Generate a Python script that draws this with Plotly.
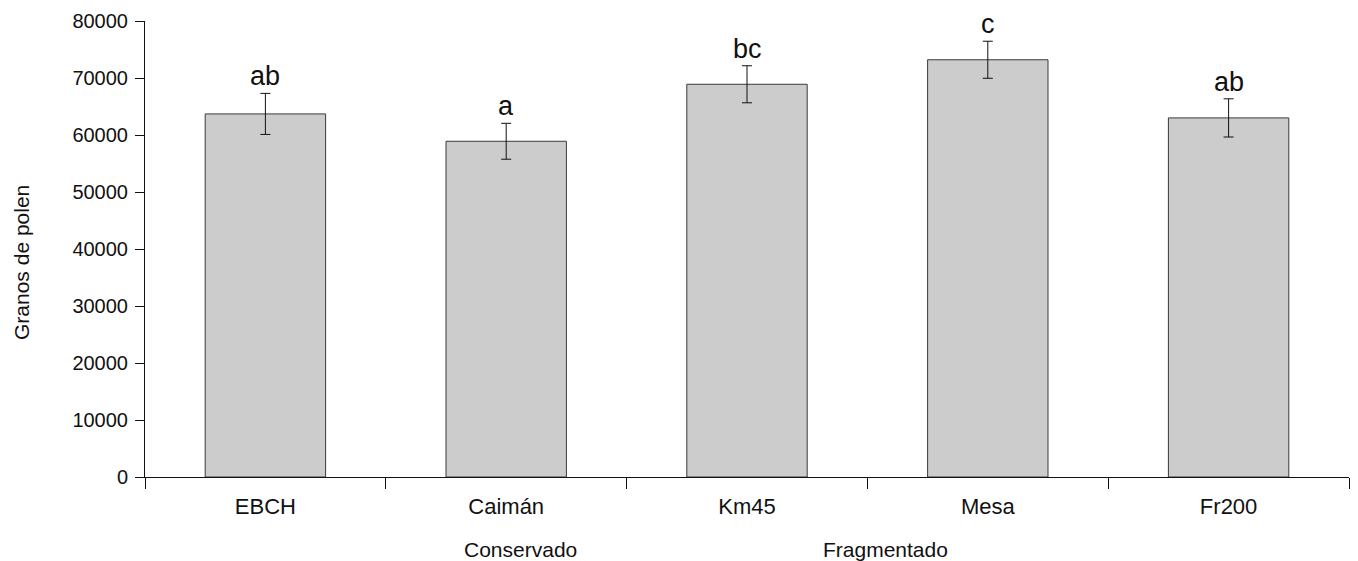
import plotly.graph_objects as go

categories = ["EBCH", "Caimán", "Km45", "Mesa", "Fr200"]
means = [63700, 58900, 68900, 73200, 63000]
errors = [3600, 3150, 3250, 3250, 3350]
letters = ["ab", "a", "bc", "c", "ab"]
groups = ["Conservado", "Fragmentado"]
group_x = [520, 885]  # pixel centres of group labels

FONT = "Liberation Sans, Arial, sans-serif"
W, H = 1358, 561
L, R, T, B = 145, 9, 21, 84

fig = go.Figure()
fig.add_trace(go.Bar(
    x=categories, y=means, width=0.5,
    marker=dict(color="#cccccc", line=dict(color="#3a3a3a", width=1)),
    error_y=dict(type="data", array=errors, visible=True, color="#111111", thickness=1, width=5),
    showlegend=False,
))

for c, m, e, t in zip(categories, means, errors, letters):
    fig.add_annotation(x=c, y=m + e, text=t, showarrow=False, yanchor="bottom", yshift=0,
                       font=dict(family=FONT, size=27, color="#111111"))

pw = W - L - R
ph = H - T - B
for g, gx in zip(groups, group_x):
    fig.add_annotation(xref="paper", yref="paper", x=(gx - L) / pw, y=(477 - 549) / ph,
                       text=g, showarrow=False, xanchor="center", yanchor="middle",
                       font=dict(family=FONT, size=21, color="#111111"))

fig.add_annotation(xref="paper", yref="paper", x=(21 - L) / pw, y=(477 - 263) / ph, text="Granos de polen",
                   textangle=-90, showarrow=False, xanchor="center", yanchor="middle",
                   font=dict(family=FONT, size=21, color="#111111"))

fig.update_layout(
    width=W, height=H,
    margin=dict(l=L, r=R, t=T, b=B),
    plot_bgcolor="white", paper_bgcolor="white",
    font=dict(family=FONT, size=20, color="#111111"),
    bargap=0.5,
)
fig.update_xaxes(showline=True, linecolor="#111111", linewidth=1, ticks="outside", ticklen=11,
                 tickcolor="#111111", tickson="boundaries", showgrid=False, ticklabelstandoff=10,
                 tickfont=dict(family=FONT, size=22, color="#111111"))
fig.update_yaxes(range=[0, 80000], dtick=10000, tickformat="d", showline=True, linecolor="#111111",
                 linewidth=1, ticks="outside", ticklen=9, tickcolor="#111111", showgrid=False,
                 zeroline=False, ticklabelstandoff=3, tickfont=dict(family=FONT, size=20, color="#111111"))

fig.write_html("out.html")
